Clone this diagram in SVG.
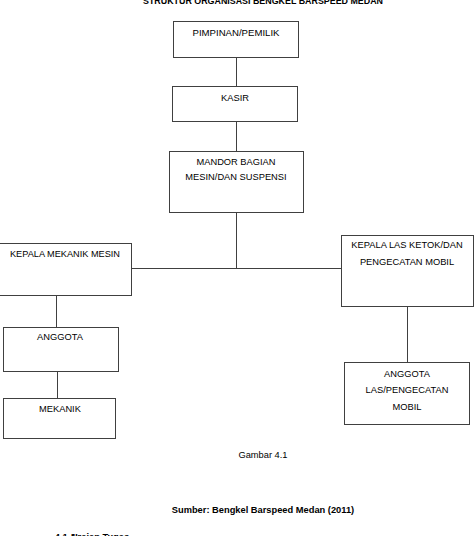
<svg xmlns="http://www.w3.org/2000/svg" width="475" height="536" viewBox="0 0 475 536">
<style>
.box{fill:#fff;stroke:#404040;stroke-width:1}
.t{font-family:"Liberation Sans",Arial,sans-serif;font-size:9.3px;fill:#000;text-anchor:middle}
.b{font-weight:bold}
.c{stroke:#404040;stroke-width:1;fill:none}
</style>
<rect width="475" height="536" fill="#fff"/>
<text class="t b" x="263" y="4" font-size="8.5" textLength="240" lengthAdjust="spacingAndGlyphs">STRUKTUR ORGANISASI BENGKEL BARSPEED MEDAN</text>
<g id="connectors">
<line class="c" x1="236.5" y1="58" x2="236.5" y2="86"/>
<line class="c" x1="236.5" y1="122" x2="236.5" y2="151"/>
<line class="c" x1="236.5" y1="213" x2="236.5" y2="268"/>
<line class="c" x1="132" y1="268.5" x2="341" y2="268.5"/>
<line class="c" x1="56.5" y1="296" x2="56.5" y2="327"/>
<line class="c" x1="57.5" y1="372" x2="57.5" y2="398"/>
<line class="c" x1="407.5" y1="307" x2="407.5" y2="362"/>
</g>
<g id="pimpinan">
<rect class="box" x="173.5" y="21.5" width="125" height="36"/>
<text class="t" x="236" y="36" textLength="87" lengthAdjust="spacingAndGlyphs">PIMPINAN/PEMILIK</text>
</g>
<g id="kasir">
<rect class="box" x="172.5" y="86.5" width="125" height="35"/>
<text class="t" x="235" y="101">KASIR</text>
</g>
<g id="mandor">
<rect class="box" x="169.5" y="151.5" width="134" height="61"/>
<text class="t" x="236" y="165">MANDOR BAGIAN</text>
<text class="t" x="236" y="180">MESIN/DAN SUSPENSI</text>
</g>
<g id="kepala-mekanik">
<rect class="box" x="-0.5" y="243.5" width="132" height="52"/>
<text class="t" x="65" y="257" textLength="110" lengthAdjust="spacingAndGlyphs">KEPALA MEKANIK MESIN</text>
</g>
<g id="kepala-las">
<rect class="box" x="341.5" y="235.5" width="132" height="71"/>
<text class="t" x="407" y="248">KEPALA LAS KETOK/DAN</text>
<text class="t" x="407" y="265">PENGECATAN MOBIL</text>
</g>
<g id="anggota">
<rect class="box" x="3.5" y="327.5" width="115" height="44"/>
<text class="t" x="60" y="340">ANGGOTA</text>
</g>
<g id="mekanik">
<rect class="box" x="3.5" y="398.5" width="112" height="40"/>
<text class="t" x="60" y="412">MEKANIK</text>
</g>
<g id="anggota-las">
<rect class="box" x="344.5" y="362.5" width="125" height="62"/>
<text class="t" x="407" y="377">ANGGOTA</text>
<text class="t" x="407" y="393">LAS/PENGECATAN</text>
<text class="t" x="407" y="410">MOBIL</text>
</g>
<text class="t" x="263" y="458" font-size="10">Gambar 4.1</text>
<text class="t b" x="263" y="513" font-size="8.5">Sumber: Bengkel Barspeed Medan (2011)</text>
<text class="t b" x="65" y="540" font-size="10.5" text-anchor="start">4.1.4<tspan x="100">Uraian Tugas</tspan></text>
</svg>
